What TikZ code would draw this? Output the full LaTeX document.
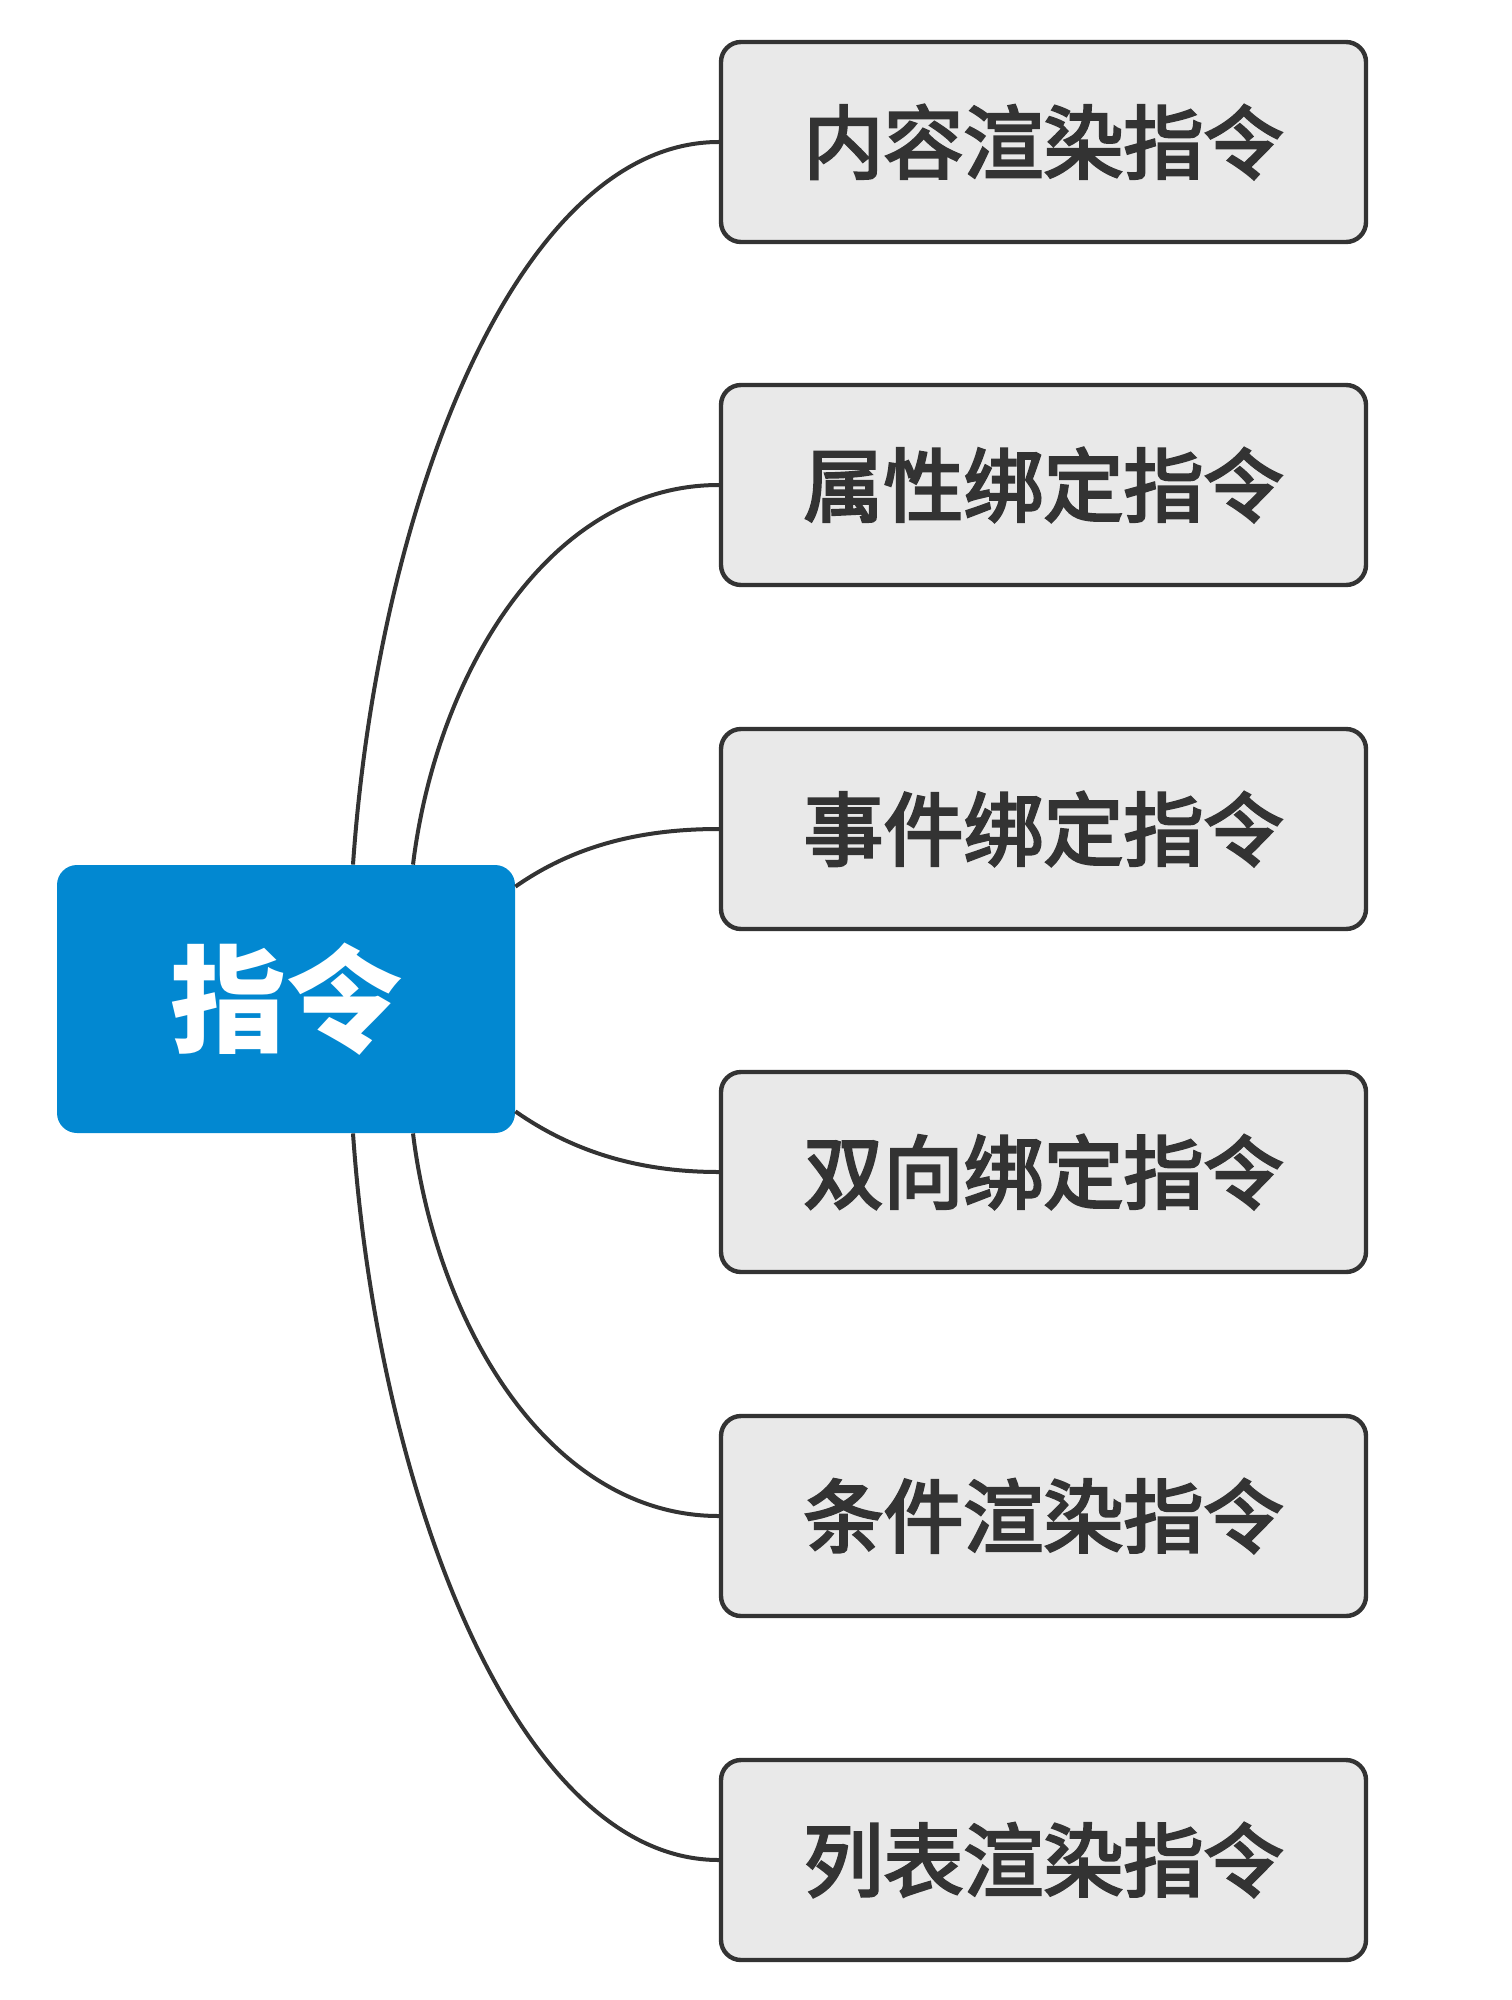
\documentclass[tikz,border=0pt]{standalone}
\usepackage{fontspec}
\usetikzlibrary{positioning}
\newfontfamily\cjk{Noto Sans CJK SC}
\newfontfamily\cjkmid{Noto Sans CJK SC}[FakeBold=3.2]
\definecolor{rootblue}{HTML}{0288D1}
\definecolor{leafgray}{HTML}{E9E9E9}
\definecolor{inkgray}{HTML}{333333}

\begin{document}
\begin{tikzpicture}[x=0.5pt,y=-0.5pt,font=\cjk,
	root/.style={fill=rootblue,text=white,rounded corners=10pt,minimum width=229pt,minimum height=134pt,font=\cjk\bfseries\fontsize{58}{60}\selectfont},
	leaf/.style={draw=inkgray,line width=2.2pt,fill=leafgray,text=inkgray,rounded corners=10pt,minimum width=322.5pt,minimum height=100pt,font=\cjkmid\fontsize{40}{42}\selectfont},
	link/.style={draw=inkgray,line width=2pt}]
	\useasboundingbox (0,0) rectangle (1511,2000);
	\node[root] (Z) at (286,999) {指令};
	\node[leaf] (N1) at (1043.5,142) {内容渲染指令};
	\node[leaf] (N2) at (1043.5,485) {属性绑定指令};
	\node[leaf] (N3) at (1043.5,829) {事件绑定指令};
	\node[leaf] (N4) at (1043.5,1172) {双向绑定指令};
	\node[leaf] (N5) at (1043.5,1516) {条件渲染指令};
	\node[leaf] (N6) at (1043.5,1860) {列表渲染指令};
	\coordinate (Z1) at ([xshift=33.5pt]Z.north);
	\coordinate (Z2) at ([xshift=63.5pt]Z.north);
	\coordinate (Z3) at ([yshift=-11pt]Z.north east);
	\coordinate (Z4) at ([yshift=11pt]Z.south east);
	\coordinate (Z5) at ([xshift=63.5pt]Z.south);
	\coordinate (Z6) at ([xshift=33.5pt]Z.south);
	\draw[link] (Z1) .. controls +(86:183pt) and +(180:100pt) .. (N1.west);
	\draw[link] (Z2) .. controls +(83:96pt) and +(180:85pt) .. (N2.west);
	\draw[link] (Z3) .. controls +(35:35pt) and +(180:40pt) .. (N3.west);
	\draw[link] (Z4) .. controls +(-35:35pt) and +(180:40pt) .. (N4.west);
	\draw[link] (Z5) .. controls +(-83:96pt) and +(180:85pt) .. (N5.west);
	\draw[link] (Z6) .. controls +(-86:183pt) and +(180:100pt) .. (N6.west);
\end{tikzpicture}
\end{document}
